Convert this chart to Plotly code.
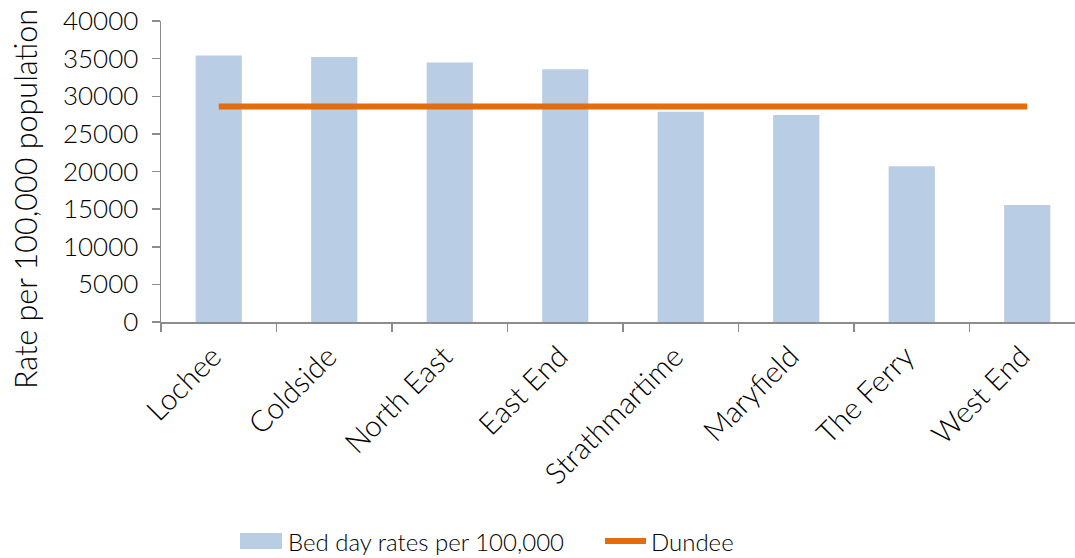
import plotly.graph_objects as go

# ---- data ----
categories = ["Lochee", "Coldside", "North East", "East End", "Strathmartime",
              "Maryfield", "The Ferry", "West End"]
bed_day_rates = [35400, 35200, 34500, 33600, 27950, 27500, 20700, 15550]
dundee_rate = [28650] * len(categories)
y_ticks = [0, 5000, 10000, 15000, 20000, 25000, 30000, 35000, 40000]
series_names = ["Bed day rates per 100,000", "Dundee"]
y_title = "Rate per 100,000 population"

# ---- style ----
W, H = 1075, 558
L, R, T, B = 161, 0, 21, 236
BAR_COLOR = "#B9CDE5"
LINE_COLOR = "#E46C0A"
AXIS_COLOR = "#8C8C8C"
FONT = "Lato"
WEIGHT = 300
TXT = "#000000"

plot_w = W - L - R
plot_h = H - T - B
cat_px = 115.5
x_hi = -0.5 + plot_w / cat_px


def px_x(p):
    return (p - L) / plot_w


def px_y(p):
    return (H - B - p) / plot_h


def fnt(size):
    return dict(family=FONT, size=size, color=TXT, weight=WEIGHT)


fig = go.Figure()
fig.add_trace(go.Bar(
    x=categories, y=bed_day_rates, name=series_names[0],
    marker=dict(color=BAR_COLOR, line=dict(width=0)),
    showlegend=False, hoverinfo="skip",
))
fig.add_trace(go.Scatter(
    x=categories, y=dundee_rate, name=series_names[1], mode="lines",
    line=dict(color=LINE_COLOR, width=6),
    showlegend=False, hoverinfo="skip",
))

fig.update_layout(
    width=W, height=H,
    margin=dict(l=L, r=R, t=T, b=B, pad=0),
    paper_bgcolor="white", plot_bgcolor="white",
    bargap=0.6,
    font=fnt(24),
    showlegend=False,
)
fig.update_xaxes(
    type="category", range=[-0.5, x_hi],
    showline=True, linecolor=AXIS_COLOR, linewidth=1.5,
    ticks="outside", tickson="boundaries", ticklen=8, tickcolor=AXIS_COLOR, tickwidth=1.5,
    tickangle=-45, tickfont=fnt(29.5),
    ticklabelstandoff=4, ticklabelshift=-6,
    showgrid=False, zeroline=False,
)
fig.update_yaxes(
    range=[0, 40000], tickmode="array", tickvals=y_ticks,
    ticktext=[str(v) for v in y_ticks],
    showline=True, linecolor=AXIS_COLOR, linewidth=1.5,
    ticks="outside", ticklen=8, tickcolor=AXIS_COLOR, tickwidth=1.5,
    tickfont=fnt(26),
    ticklabelstandoff=8,
    showgrid=False, zeroline=False,
)

# y-axis title
fig.add_annotation(
    xref="paper", yref="paper", x=px_x(25), y=px_y(199),
    text=y_title, textangle=-90, showarrow=False,
    font=fnt(30.5),
    xanchor="center", yanchor="middle",
)

# custom legend
leg_y = 541
fig.add_shape(type="rect", xref="paper", yref="paper",
              x0=px_x(240), x1=px_x(282), y0=px_y(533), y1=px_y(549),
              fillcolor=BAR_COLOR, line=dict(width=0))
fig.add_annotation(xref="paper", yref="paper", x=px_x(286), y=px_y(leg_y),
                   text=series_names[0], showarrow=False, xanchor="left", yanchor="middle",
                   font=fnt(24))
fig.add_shape(type="line", xref="paper", yref="paper",
              x0=px_x(605), x1=px_x(646), y0=px_y(leg_y), y1=px_y(leg_y),
              line=dict(color=LINE_COLOR, width=6))
fig.add_annotation(xref="paper", yref="paper", x=px_x(649), y=px_y(leg_y),
                   text=series_names[1], showarrow=False, xanchor="left", yanchor="middle",
                   font=fnt(24))

fig.write_html(
    "out.html",
    config={"displayModeBar": False, "staticPlot": True},
    post_script="document.body.style.margin='0';document.body.style.padding='0';"
                "document.documentElement.style.overflow='hidden';",
)
